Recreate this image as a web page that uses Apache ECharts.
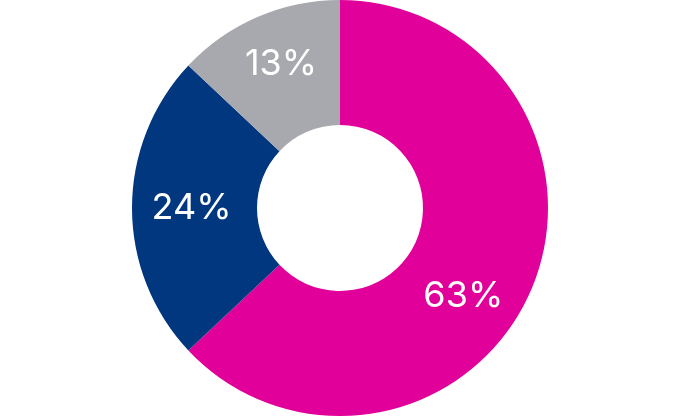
<!DOCTYPE html>
<html><head><meta charset="utf-8">
<script src="https://cdn.jsdelivr.net/npm/echarts@6/dist/echarts.min.js"></script>
<style>html,body{margin:0;padding:0;background:#fff}#c{width:680px;height:416px}</style>
</head><body><div id="c"></div>
<script>
const categories = ['A', 'B', 'C'];
const values = [63, 24, 13];
const labels = ['63%', '24%', '13%'];
const colors = ['#E2009A', '#01377F', '#A8A9AF'];
const offsets = [[-13, 29], [0, 0], [0, -8]];

const chart = echarts.init(document.getElementById('c'), null, {renderer: 'canvas'});
chart.setOption({
  animation: false,
  series: [{
    type: 'pie',
    center: [340, 208],
    radius: [83, 208],
    startAngle: 90,
    clockwise: true,
    avoidLabelOverlap: false,
    label: {
      show: true, position: 'inside',
      color: '#fff', fontFamily: 'Inter', fontSize: 36, fontWeight: 400,
      formatter: p => labels[p.dataIndex]
    },
    labelLine: {show: false},
    itemStyle: {borderWidth: 0},
    emphasis: {disabled: true},
    data: categories.map((c, i) => ({
      name: c, value: values[i],
      itemStyle: {color: colors[i]},
      label: {offset: offsets[i]}
    }))
  }]
});
</script></body></html>
